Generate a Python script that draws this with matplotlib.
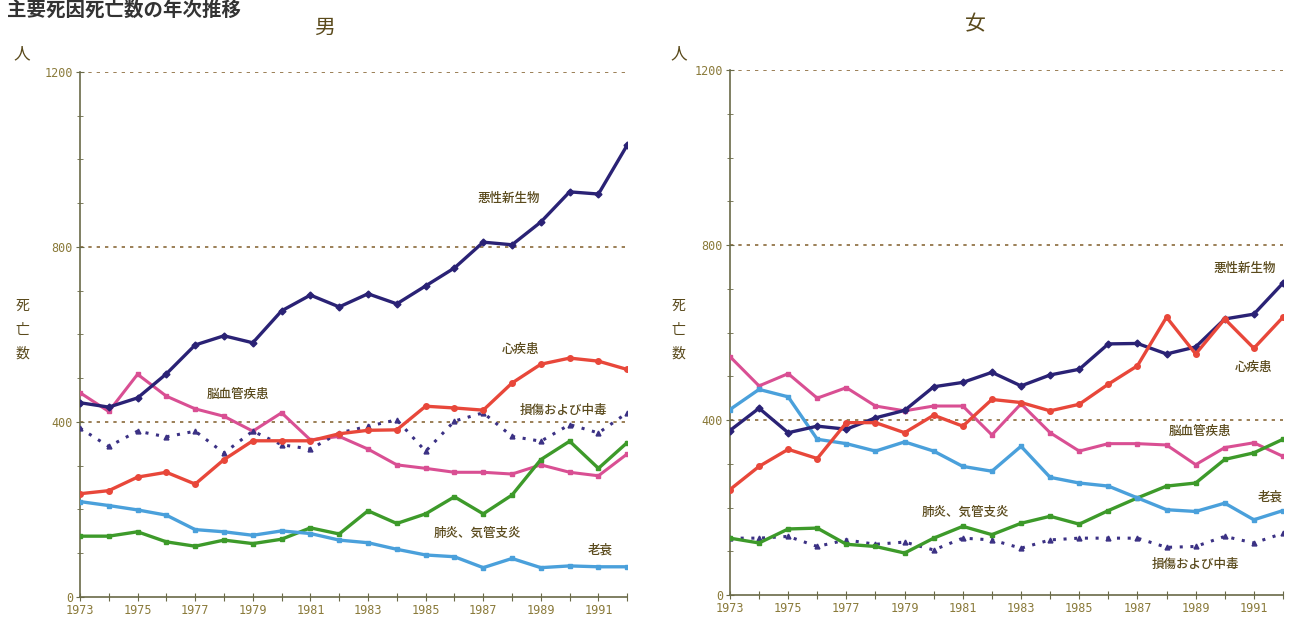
import matplotlib
matplotlib.use("Agg")
from matplotlib import pyplot as plt
from matplotlib.ticker import MultipleLocator

plt.rcParams['font.family'] = ['Noto Sans CJK JP', 'DejaVu Sans']

years = list(range(1973, 1993))
year_labels = [str(y) if y % 2 == 1 else '' for y in years]

# 男
m_cancer = [444, 434, 455, 510, 576, 597, 581, 654, 690, 663, 693, 670, 711, 752, 811, 805, 857, 926, 921, 1033]
m_heart = [236, 243, 274, 285, 258, 314, 357, 357, 357, 373, 381, 382, 436, 432, 427, 489, 532, 546, 539, 520]
m_stroke = [467, 424, 509, 459, 430, 413, 379, 421, 359, 367, 338, 302, 294, 285, 285, 281, 302, 285, 277, 327]
m_injury = [386, 344, 379, 366, 379, 329, 379, 348, 338, 375, 390, 405, 333, 402, 421, 367, 356, 394, 375, 421]
m_pneumonia = [139, 139, 149, 126, 116, 130, 122, 132, 158, 144, 197, 168, 190, 229, 190, 233, 314, 356, 294, 353]
m_senility = [218, 209, 199, 187, 154, 149, 141, 151, 145, 130, 124, 109, 96, 92, 67, 88, 67, 71, 69, 69]

# 女
f_cancer = [376, 427, 371, 386, 379, 405, 422, 476, 486, 509, 478, 503, 516, 574, 575, 551, 567, 631, 642, 713]
f_heart = [241, 294, 333, 312, 394, 394, 371, 411, 386, 447, 440, 421, 436, 482, 524, 635, 551, 631, 564, 635]
f_stroke = [545, 478, 506, 450, 474, 432, 421, 432, 432, 366, 437, 371, 329, 346, 346, 343, 298, 337, 348, 317]
f_injury = [130, 130, 134, 111, 126, 116, 121, 103, 130, 126, 107, 126, 130, 130, 130, 109, 111, 134, 119, 141]
f_pneumonia = [130, 119, 151, 153, 116, 111, 96, 130, 157, 138, 164, 180, 162, 193, 222, 249, 256, 310, 325, 356]
f_senility = [424, 470, 453, 356, 346, 329, 350, 329, 294, 283, 340, 269, 256, 249, 222, 195, 191, 210, 172, 193]

names = ['悪性新生物', '心疾患', '脳血管疾患', '損傷および中毒', '肺炎、気管支炎', '老衰']

text_col = '#5a4a1c'
tick_col = '#8a7a3a'
axis_col = '#6a6a48'
grid_col = '#8a6a3a'

fig = plt.figure(figsize=(13, 6.28), dpi=100)
fig.patch.set_facecolor('white')

fig.text(0.005, 0.999, '主要死因死亡数の年次推移', fontsize=14, fontweight='bold',
         color='#333333', ha='left', va='top')


def draw_panel(ax, cancer, heart, stroke, injury, pneumonia, senility, label_pos):
    ax.set_xlim(1973, 1992)
    ax.set_ylim(0, 1200)
    for v in [400, 800, 1200]:
        ax.axhline(v, color=grid_col, lw=1.2, ls=(0, (2, 3)), zorder=1)

    ax.plot(years, cancer, color='#2a2275', lw=2.4, marker='D', ms=3.5, zorder=5)
    ax.plot(years, heart, color='#e8473a', lw=2.4, marker='o', ms=4, zorder=5)
    ax.plot(years, stroke, color='#d94f93', lw=2.2, marker='s', ms=3, zorder=4)
    ax.plot(years, injury, color='#3b3184', lw=2.2, ls=(0, (1, 2.5)), marker='^', ms=3.5,
            zorder=4)
    ax.plot(years, pneumonia, color='#3d9a2a', lw=2.4, marker='s', ms=3, zorder=4)
    ax.plot(years, senility, color='#4aa0db', lw=2.4, marker='s', ms=3.5, zorder=4)

    for name, (x, y) in zip(names, label_pos):
        ax.text(x, y, name, fontsize=9, fontweight='medium', color=text_col, ha='center',
                va='center', zorder=6)

    for s in ['top', 'right']:
        ax.spines[s].set_visible(False)
    for s in ['left', 'bottom']:
        ax.spines[s].set_color(axis_col)
        ax.spines[s].set_linewidth(1.2)

    ax.set_xticks(years)
    ax.set_xticklabels(year_labels, family='DejaVu Sans Mono', fontsize=8.5, color=tick_col)
    ax.set_yticks([0, 400, 800, 1200])
    ax.set_yticklabels(['0', '400', '800', '1200'], family='DejaVu Sans Mono', fontsize=8.5,
                       color=tick_col)
    ax.yaxis.set_minor_locator(MultipleLocator(100))
    ax.tick_params(axis='both', which='major', direction='inout', length=6, color=axis_col,
                   pad=2)
    ax.tick_params(axis='y', which='minor', direction='inout', length=4, color=axis_col)


ax1 = fig.add_axes([0.0615, 0.0494, 0.421, 0.836])
draw_panel(ax1, m_cancer, m_heart, m_stroke, m_injury, m_pneumonia, m_senility,
           [(1987.9, 912), (1988.3, 565), (1978.5, 462), (1989.8, 427), (1986.8, 146),
            (1991.05, 107)])

ax2 = fig.add_axes([0.5615, 0.0525, 0.4254, 0.836])
draw_panel(ax2, f_cancer, f_heart, f_stroke, f_injury, f_pneumonia, f_senility,
           [(1990.7, 747), (1991.0, 519), (1989.15, 373), (1989.0, 69), (1981.1, 190),
            (1991.55, 224)])

fig.text(0.25, 0.955, '男', fontsize=15, color=text_col, ha='center', va='center')
fig.text(0.75, 0.962, '女', fontsize=15, color=text_col, ha='center', va='center')

for x in [0.017, 0.522]:
    fig.text(x, 0.915, '人', fontsize=12, color=text_col, ha='center', va='center')
    fig.text(x, 0.475, '死\n亡\n数', fontsize=10, color=text_col, ha='center', va='center',
             linespacing=1.9)

fig.savefig('out.png', dpi=100)
